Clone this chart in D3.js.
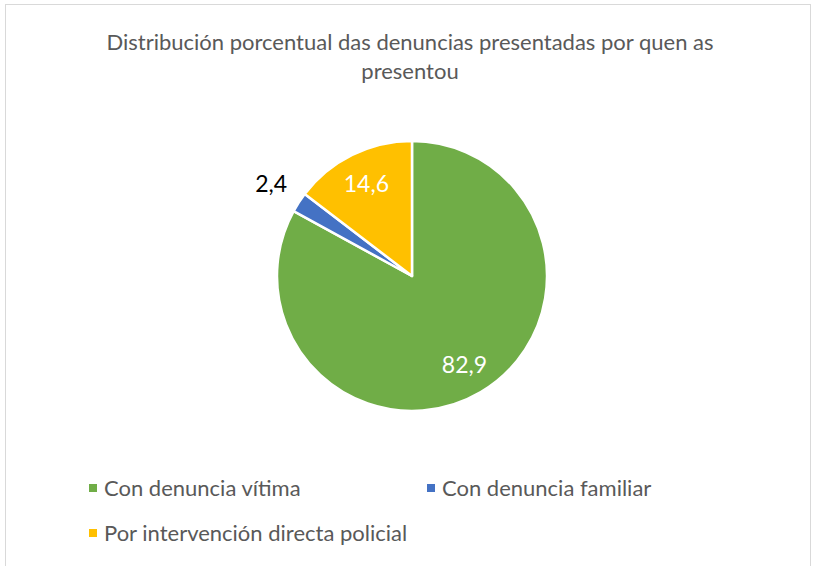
<!DOCTYPE html>
<html>
<head>
<meta charset="utf-8">
<script src="https://cdn.jsdelivr.net/npm/d3@7"></script>
<style>
  html, body { margin: 0; padding: 0; background: #fff; }
  svg text { font-family: Lato, "Open Sans", sans-serif; }
</style>
</head>
<body>
<svg id="chart" width="817" height="566"></svg>
<script>
// Share of complaints by who filed them (percent)
const categories = ["Con denuncia vítima", "Con denuncia familiar", "Por intervención directa policial"];
const values = [82.9, 2.4, 14.6];
const colors = ["#70AD47", "#4472C4", "#FFC000"];
const titleLines = ["Distribución porcentual das denuncias presentadas por quen as", "presentou"];

const svg = d3.select("#chart");

// chart frame
svg.append("rect")
  .attr("x", 5.5).attr("y", 4.5)
  .attr("width", 805).attr("height", 570)
  .attr("fill", "#fff").attr("stroke", "#d9d9d9").attr("stroke-width", 1);

// title
svg.append("text")
  .attr("x", 410).attr("y", 50)
  .attr("text-anchor", "middle")
  .attr("fill", "#595959")
  .attr("font-size", 22)
  .selectAll("tspan").data(titleLines).join("tspan")
  .attr("x", 410)
  .attr("dy", (d, i) => i === 0 ? 0 : 29)
  .text(d => d);

// pie
const cx = 412, cy = 276, radius = 135;
const pie = d3.pie().sort(null).value(d => d.value);
const data = categories.map((c, i) => ({ name: c, value: values[i], color: colors[i] }));
const arcs = pie(data);
const arc = d3.arc().innerRadius(0).outerRadius(radius);
const labelArc = d3.arc().innerRadius(103).outerRadius(103);
const outerLabelArc = d3.arc().innerRadius(168).outerRadius(168);

const g = svg.append("g").attr("transform", `translate(${cx},${cy})`);
g.selectAll("path").data(arcs).join("path")
  .attr("d", arc)
  .attr("fill", d => d.data.color)
  .attr("stroke", "#fff")
  .attr("stroke-width", 2.5)
  .attr("stroke-linejoin", "round");

const fmt = v => String(v).replace(".", ",");
g.selectAll("text.lbl").data(arcs).join("text")
  .attr("class", "lbl")
  .attr("transform", d => {
    const small = d.value < 5;
    const p = (small ? outerLabelArc : labelArc).centroid(d);
    return `translate(${p[0]},${p[1]})`;
  })
  .attr("text-anchor", "middle")
  .attr("dy", "0.35em")
  .attr("font-size", 23)
  .attr("fill", d => d.value < 5 ? "#000" : "#fff")
  .text(d => fmt(d.data.value));

// legend
const legendPos = [[89, 488], [427, 488], [89, 533]];
const lg = svg.append("g").selectAll("g").data(data).join("g")
  .attr("transform", (d, i) => `translate(${legendPos[i][0]},${legendPos[i][1]})`);
lg.append("rect")
  .attr("x", 0).attr("y", -4).attr("width", 8).attr("height", 8)
  .attr("fill", d => d.color);
lg.append("text")
  .attr("x", 15).attr("y", 0).attr("dy", "0.35em")
  .attr("font-size", 22)
  .attr("fill", "#595959")
  .text(d => d.name);
</script>
</body>
</html>
